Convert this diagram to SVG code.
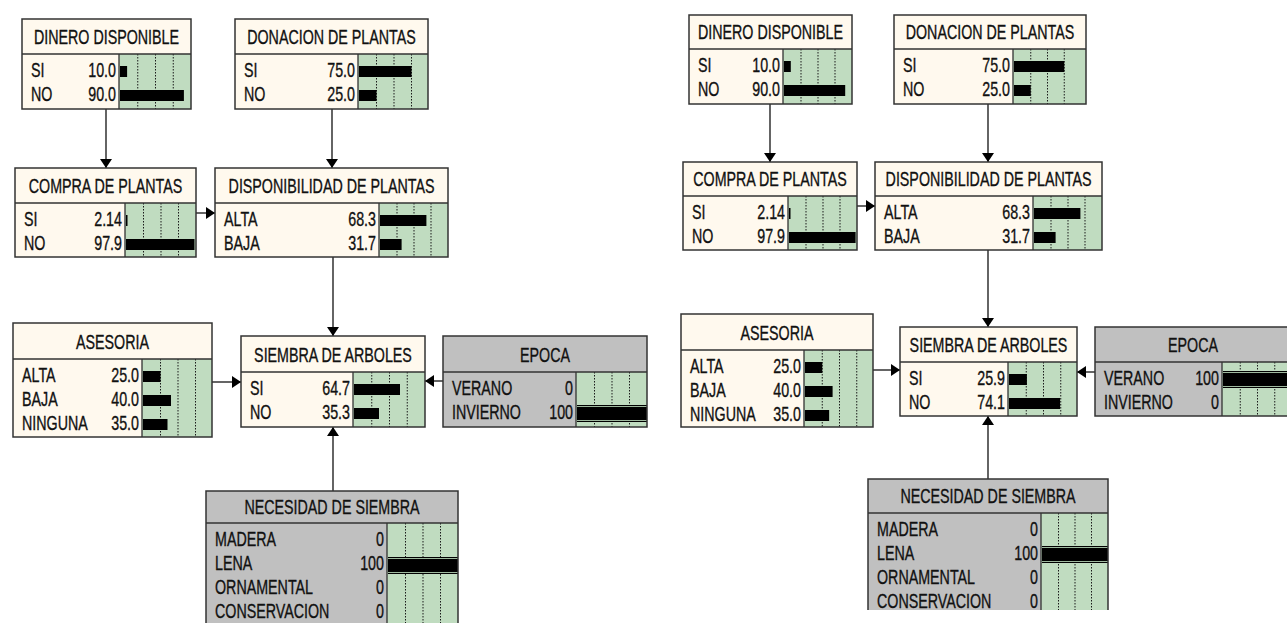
<svg xmlns="http://www.w3.org/2000/svg" width="1287" height="623" viewBox="0 0 1287 623">
<style>
.hd{fill:#FFF9EE}
.gy{fill:#C0C0C0}
.gr{fill:#C0DCC0}
.bx{fill:none;stroke:#333;stroke-width:1.5}
.ln{fill:none;stroke:#333;stroke-width:1.3}
.dot{fill:none;stroke:#1a1a1a;stroke-width:1;stroke-dasharray:1.5 1.5}
.bar{fill:#000}
.hl{stroke:#9FB99F;stroke-width:1}
.cn{fill:none;stroke:#111;stroke-width:1.3;marker-end:url(#ah)}
text{font-family:"Liberation Sans",Arial,sans-serif;font-size:21px;fill:#111;stroke:#111;stroke-width:.35;transform-box:fill-box;transform:scaleX(.68)}
.s{transform-origin:0 50%}
.e{text-anchor:end;transform-origin:100% 50%}
.m{text-anchor:middle;transform-origin:50% 50%}
</style>
<defs>
<marker id="ah" viewBox="0 0 9 12" refX="9" refY="6" markerWidth="9" markerHeight="12" markerUnits="userSpaceOnUse" orient="auto">
<path d="M0,0 L9,6 L0,12 z" fill="#000"/>
</marker>
<clipPath id="cutR"><rect x="860" y="470" width="260" height="140"/></clipPath>
</defs>
<rect width="1287" height="623" fill="#fff"/>

<g id="connectors">
<path class="cn" d="M106 109V168"/>
<path class="cn" d="M332 109V168"/>
<path class="cn" d="M196 213H215"/>
<path class="cn" d="M333 257V336"/>
<path class="cn" d="M212 382H241"/>
<path class="cn" d="M443 381H425"/>
<path class="cn" d="M333 491V427"/>
<path class="cn" d="M770 104V162"/>
<path class="cn" d="M988 104V162"/>
<path class="cn" d="M857 206H875"/>
<path class="cn" d="M988 250V327"/>
<path class="cn" d="M873 370H900"/>
<path class="cn" d="M1095 372H1077"/>
<path class="cn" d="M988 479V416"/>
</g>

<!-- LEFT PANEL -->
<g id="l-dinero">
<rect class="hd" x="22" y="19" width="169" height="90"/>
<rect class="gr" x="119" y="54" width="72" height="55"/>
<path class="dot" d="M137.75 54V109M155.5 54V109M173.25 54V109"/>
<rect class="bar" x="120" y="66" width="7.1" height="11"/>
<rect class="bar" x="120" y="90" width="63.9" height="11"/>
<path class="ln" d="M22 54H191M119 54V109"/>
<rect class="bx" x="22" y="19" width="169" height="90"/>
<text class="m" x="106.5" y="44">DINERO DISPONIBLE</text>
<text class="s" x="31" y="77">SI</text><text class="e" x="116" y="77">10.0</text>
<text class="s" x="31" y="101">NO</text><text class="e" x="116" y="101">90.0</text>
</g>

<g id="l-donacion">
<rect class="hd" x="235" y="19" width="193" height="90"/>
<rect class="gr" x="358" y="54" width="70" height="55"/>
<path class="dot" d="M376.5 54V109M394 54V109M411.5 54V109"/>
<rect class="bar" x="359" y="66" width="52.5" height="11"/>
<rect class="bar" x="359" y="90" width="17.5" height="11"/>
<path class="ln" d="M235 54H428M358 54V109"/>
<rect class="bx" x="235" y="19" width="193" height="90"/>
<text class="m" x="331.5" y="44">DONACION DE PLANTAS</text>
<text class="s" x="244" y="77">SI</text><text class="e" x="355" y="77">75.0</text>
<text class="s" x="244" y="101">NO</text><text class="e" x="355" y="101">25.0</text>
</g>

<g id="l-compra">
<rect class="hd" x="15" y="168" width="181" height="89"/>
<rect class="gr" x="125" y="203" width="71" height="54"/>
<path class="dot" d="M143.5 203V257M161 203V257M178.5 203V257"/>
<rect class="bar" x="126" y="215" width="1.5" height="11"/>
<rect class="bar" x="126" y="239" width="68.5" height="11"/>
<path class="ln" d="M15 203H196M125 203V257"/>
<rect class="bx" x="15" y="168" width="181" height="89"/>
<text class="m" x="105.5" y="193">COMPRA DE PLANTAS</text>
<text class="s" x="24" y="226">SI</text><text class="e" x="122" y="226">2.14</text>
<text class="s" x="24" y="250">NO</text><text class="e" x="122" y="250">97.9</text>
</g>

<g id="l-disponibilidad">
<rect class="hd" x="215" y="168" width="233" height="89"/>
<rect class="gr" x="379" y="203" width="69" height="54"/>
<path class="dot" d="M397 203V257M414 203V257M431 203V257"/>
<rect class="bar" x="380" y="215" width="46.4" height="11"/>
<rect class="bar" x="380" y="239" width="21.6" height="11"/>
<path class="ln" d="M215 203H448M379 203V257"/>
<rect class="bx" x="215" y="168" width="233" height="89"/>
<text class="m" x="331.5" y="193">DISPONIBILIDAD DE PLANTAS</text>
<text class="s" x="224" y="226">ALTA</text><text class="e" x="376" y="226">68.3</text>
<text class="s" x="224" y="250">BAJA</text><text class="e" x="376" y="250">31.7</text>
</g>

<g id="l-asesoria">
<rect class="hd" x="13" y="323" width="199" height="114"/>
<rect class="gr" x="142" y="359" width="70" height="78"/>
<path class="dot" d="M160.5 359V437M178 359V437M195.5 359V437"/>
<rect class="bar" x="143" y="371" width="17.5" height="11"/>
<rect class="bar" x="143" y="395" width="28" height="11"/>
<rect class="bar" x="143" y="419" width="24.5" height="11"/>
<path class="ln" d="M13 359H212M142 359V437"/>
<rect class="bx" x="13" y="323" width="199" height="114"/>
<text class="m" x="112.5" y="349">ASESORIA</text>
<text class="s" x="22" y="382">ALTA</text><text class="e" x="139" y="382">25.0</text>
<text class="s" x="22" y="406">BAJA</text><text class="e" x="139" y="406">40.0</text>
<text class="s" x="22" y="430">NINGUNA</text><text class="e" x="139" y="430">35.0</text>
</g>

<g id="l-siembra">
<rect class="hd" x="241" y="336" width="184" height="91"/>
<rect class="gr" x="353" y="372" width="72" height="55"/>
<path class="dot" d="M371.75 372V427M389.5 372V427M407.25 372V427"/>
<rect class="bar" x="354" y="384" width="46" height="11"/>
<rect class="bar" x="354" y="408" width="25" height="11"/>
<path class="ln" d="M241 372H425M353 372V427"/>
<rect class="bx" x="241" y="336" width="184" height="91"/>
<text class="m" x="333" y="362">SIEMBRA DE ARBOLES</text>
<text class="s" x="250" y="395">SI</text><text class="e" x="350" y="395">64.7</text>
<text class="s" x="250" y="419">NO</text><text class="e" x="350" y="419">35.3</text>
</g>

<g id="l-epoca">
<rect class="gy" x="443" y="336" width="204" height="91"/>
<rect class="gr" x="576" y="372" width="71" height="55"/>
<path class="dot" d="M594.5 372V427M612 372V427M629.5 372V427"/>
<rect class="bar" x="577" y="405" width="70" height="17"/>
<path class="hl" d="M577 406.5H647M577 420.5H647"/>
<path class="ln" d="M443 372H647M576 372V427"/>
<rect class="bx" x="443" y="336" width="204" height="91"/>
<text class="m" x="545" y="362">EPOCA</text>
<text class="s" x="452" y="395">VERANO</text><text class="e" x="573" y="395">0</text>
<text class="s" x="452" y="419">INVIERNO</text><text class="e" x="573" y="419">100</text>
</g>

<g id="l-necesidad">
<rect class="gy" x="206" y="491" width="252" height="150"/>
<rect class="gr" x="387" y="523" width="71" height="118"/>
<path class="dot" d="M405.5 523V641M423 523V641M440.5 523V641"/>
<rect class="bar" x="388" y="557" width="70" height="17"/>
<path class="hl" d="M388 558.5H458M388 572.5H458"/>
<path class="ln" d="M206 523H458M387 523V641"/>
<rect class="bx" x="206" y="491" width="252" height="150"/>
<text class="m" x="332" y="514">NECESIDAD DE SIEMBRA</text>
<text class="s" x="215" y="546">MADERA</text><text class="e" x="384" y="546">0</text>
<text class="s" x="215" y="570">LENA</text><text class="e" x="384" y="570">100</text>
<text class="s" x="215" y="594">ORNAMENTAL</text><text class="e" x="384" y="594">0</text>
<text class="s" x="215" y="618">CONSERVACION</text><text class="e" x="384" y="618">0</text>
</g>

<!-- RIGHT PANEL -->
<g id="r-dinero">
<rect class="hd" x="689" y="15" width="163" height="89"/>
<rect class="gr" x="783" y="49" width="69" height="55"/>
<path class="dot" d="M801 49V104M818 49V104M835 49V104"/>
<rect class="bar" x="784" y="61" width="6.8" height="11"/>
<rect class="bar" x="784" y="85" width="61.2" height="11"/>
<path class="ln" d="M689 49H852M783 49V104"/>
<rect class="bx" x="689" y="15" width="163" height="89"/>
<text class="m" x="770.5" y="39">DINERO DISPONIBLE</text>
<text class="s" x="698" y="72">SI</text><text class="e" x="780" y="72">10.0</text>
<text class="s" x="698" y="96">NO</text><text class="e" x="780" y="96">90.0</text>
</g>

<g id="r-donacion">
<rect class="hd" x="894" y="15" width="192" height="89"/>
<rect class="gr" x="1013" y="49" width="73" height="55"/>
<path class="dot" d="M1030.75 49V104M1047.5 49V104M1064.25 49V104"/>
<rect class="bar" x="1014" y="61" width="50.25" height="11"/>
<rect class="bar" x="1014" y="85" width="16.75" height="11"/>
<path class="ln" d="M894 49H1086M1013 49V104"/>
<rect class="bx" x="894" y="15" width="192" height="89"/>
<text class="m" x="990" y="39">DONACION DE PLANTAS</text>
<text class="s" x="903" y="72">SI</text><text class="e" x="1010" y="72">75.0</text>
<text class="s" x="903" y="96">NO</text><text class="e" x="1010" y="96">25.0</text>
</g>

<g id="r-compra">
<rect class="hd" x="683" y="162" width="174" height="88"/>
<rect class="gr" x="788" y="196" width="69" height="54"/>
<path class="dot" d="M806 196V250M823 196V250M840 196V250"/>
<rect class="bar" x="789" y="208" width="1.5" height="11"/>
<rect class="bar" x="789" y="232" width="66.6" height="11"/>
<path class="ln" d="M683 196H857M788 196V250"/>
<rect class="bx" x="683" y="162" width="174" height="88"/>
<text class="m" x="770" y="186">COMPRA DE PLANTAS</text>
<text class="s" x="692" y="219">SI</text><text class="e" x="785" y="219">2.14</text>
<text class="s" x="692" y="243">NO</text><text class="e" x="785" y="243">97.9</text>
</g>

<g id="r-disponibilidad">
<rect class="hd" x="875" y="162" width="227" height="88"/>
<rect class="gr" x="1033" y="196" width="69" height="54"/>
<path class="dot" d="M1051 196V250M1068 196V250M1085 196V250"/>
<rect class="bar" x="1034" y="208" width="46.4" height="11"/>
<rect class="bar" x="1034" y="232" width="21.6" height="11"/>
<path class="ln" d="M875 196H1102M1033 196V250"/>
<rect class="bx" x="875" y="162" width="227" height="88"/>
<text class="m" x="988.5" y="186">DISPONIBILIDAD DE PLANTAS</text>
<text class="s" x="884" y="219">ALTA</text><text class="e" x="1030" y="219">68.3</text>
<text class="s" x="884" y="243">BAJA</text><text class="e" x="1030" y="243">31.7</text>
</g>

<g id="r-asesoria">
<rect class="hd" x="681" y="314" width="192" height="113"/>
<rect class="gr" x="804" y="350" width="69" height="77"/>
<path class="dot" d="M822.25 350V427M839.5 350V427M856.75 350V427"/>
<rect class="bar" x="805" y="362" width="17.25" height="11"/>
<rect class="bar" x="805" y="386" width="27.6" height="11"/>
<rect class="bar" x="805" y="410" width="24.15" height="11"/>
<path class="ln" d="M681 350H873M804 350V427"/>
<rect class="bx" x="681" y="314" width="192" height="113"/>
<text class="m" x="777" y="340">ASESORIA</text>
<text class="s" x="690" y="373">ALTA</text><text class="e" x="801" y="373">25.0</text>
<text class="s" x="690" y="397">BAJA</text><text class="e" x="801" y="397">40.0</text>
<text class="s" x="690" y="421">NINGUNA</text><text class="e" x="801" y="421">35.0</text>
</g>

<g id="r-siembra">
<rect class="hd" x="900" y="327" width="177" height="89"/>
<rect class="gr" x="1008" y="362" width="69" height="54"/>
<path class="dot" d="M1026.25 362V416M1043.5 362V416M1060.75 362V416"/>
<rect class="bar" x="1009" y="374" width="17.9" height="11"/>
<rect class="bar" x="1009" y="398" width="51.1" height="11"/>
<path class="ln" d="M900 362H1077M1008 362V416"/>
<rect class="bx" x="900" y="327" width="177" height="89"/>
<text class="m" x="988.5" y="352">SIEMBRA DE ARBOLES</text>
<text class="s" x="909" y="385">SI</text><text class="e" x="1005" y="385">25.9</text>
<text class="s" x="909" y="409">NO</text><text class="e" x="1005" y="409">74.1</text>
</g>

<g id="r-epoca">
<rect class="gy" x="1095" y="327" width="196" height="89"/>
<rect class="gr" x="1222" y="362" width="69" height="54"/>
<path class="dot" d="M1240.25 362V416M1257.5 362V416M1274.75 362V416"/>
<rect class="bar" x="1223" y="371" width="68" height="17"/>
<path class="hl" d="M1223 372.5H1291M1223 386.5H1291"/>
<path class="ln" d="M1095 362H1291M1222 362V416"/>
<rect class="bx" x="1095" y="327" width="196" height="89"/>
<text class="m" x="1193" y="352">EPOCA</text>
<text class="s" x="1104" y="385">VERANO</text><text class="e" x="1219" y="385">100</text>
<text class="s" x="1104" y="409">INVIERNO</text><text class="e" x="1219" y="409">0</text>
</g>

<g id="r-necesidad" clip-path="url(#cutR)">
<rect class="gy" x="868" y="479" width="240" height="160"/>
<rect class="gr" x="1041" y="513" width="67" height="126"/>
<path class="dot" d="M1058.5 513V639M1075 513V639M1091.5 513V639"/>
<rect class="bar" x="1042" y="546" width="66" height="17"/>
<path class="hl" d="M1042 547.5H1108M1042 561.5H1108"/>
<path class="ln" d="M868 513H1108M1041 513V639"/>
<rect class="bx" x="868" y="479" width="240" height="160"/>
<text class="m" x="988" y="503">NECESIDAD DE SIEMBRA</text>
<text class="s" x="877" y="536">MADERA</text><text class="e" x="1038" y="536">0</text>
<text class="s" x="877" y="560">LENA</text><text class="e" x="1038" y="560">100</text>
<text class="s" x="877" y="584">ORNAMENTAL</text><text class="e" x="1038" y="584">0</text>
<text class="s" x="877" y="608">CONSERVACION</text><text class="e" x="1038" y="608">0</text>
</g>
</svg>
